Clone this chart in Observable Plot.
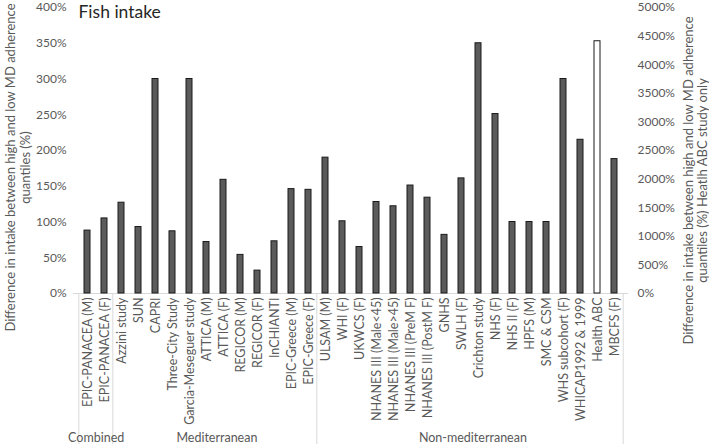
<!DOCTYPE html>
<html><head><meta charset="utf-8">
<script src="https://cdn.jsdelivr.net/npm/d3@7"></script>
<script src="https://cdn.jsdelivr.net/npm/@observablehq/plot@0.6"></script>
<style>
body{margin:0;background:#fff;}
#chart svg{display:block;}
</style></head><body><div id="chart"></div>
<script>
const studies = ["EPIC-PANACEA (M)","EPIC-PANACEA (F)","Azzini study","SUN","CAPRI","Three-City Study","Garcia-Meseguer study","ATTICA (M)","ATTICA (F)","REGICOR (M)","REGICOR (F)","InCHIANTI","EPIC-Greece (M)","EPIC-Greece (F)","ULSAM (M)","WHI (F)","UKWCS (F)","NHANES III (Male<45)","NHANES III (Male>45)","NHANES III (PreM F)","NHANES III (PostM F)","GNHS","SWLH (F)","Crichton study","NHS (F)","NHS II (F)","HPFS (M)","SMC & CSM","WHS subcohort (F)","WHICAP1992 & 1999","Health ABC","MBCFS (F)"];
const groupNames = ["Combined","Mediterranean","Non-mediterranean"];
const groupSizes = [2, 12, 18];
// left axis values (%); null where plotted on the right axis
const leftValues = [88,105,127,93,300,87,300,72,159,54,32,73,146,145,190,101,65,128,122,151,134,82,161,350,251,100,100,100,300,215,null,188];
// right axis values (%) — Health ABC study only
const rightValues = [null,null,null,null,null,null,null,null,null,null,null,null,null,null,null,null,null,null,null,null,null,null,null,null,null,null,null,null,null,null,4410,null];
const leftTicks = [0,50,100,150,200,250,300,350,400];
const rightTicks = [0,500,1000,1500,2000,2500,3000,3500,4000,4500,5000];
const title = "Fish intake";
const yLabelLeft = "Difference in intake between high and low MD adherence\nquantiles (%)";
const yLabelRight = "Difference in intake between high and low MD adherence\nquantiles (%) Heatlh ABC study only";

const leftMax = leftTicks[leftTicks.length-1], rightMax = rightTicks[rightTicks.length-1];
const ratio = rightMax / leftMax;
const data = studies.map((s, i) => ({
  study: s,
  right: rightValues[i] != null,
  y: rightValues[i] != null ? rightValues[i] / ratio : leftValues[i]
}));

const W = 709, H = 444, mL = 73, mR = 81, mT = 7, mB = 151;
const step = (W - mL - mR) / studies.length;
const plotH = H - mT - mB;

// group boundaries
const starts = [];
let acc = 0;
for (const n of groupSizes) { starts.push(acc); acc += n; }

const grey = "#d9d9d9";
const marks = [
  Plot.ruleY([0], {stroke: grey}),
  Plot.barY(data, {x: "study", y: "y", fill: d => d.right ? "#ffffff" : "#5b5b5b", stroke: "#1a1a1a", strokeWidth: 1}),
  Plot.axisY({anchor: "left", ticks: leftTicks, tickFormat: d => d + "%", tickSize: 0, tickPadding: 7, label: null, fontSize: 12}),
  Plot.axisY({anchor: "right", ticks: rightTicks.map(v => v / ratio), tickFormat: d => Math.round(d * ratio) + "%", tickSize: 0, tickPadding: 9, label: null, fontSize: 12}),
  Plot.axisX({tickRotate: -90, tickSize: 0, tickPadding: 4, label: null, fontSize: 12.5}),
  // separators at group boundaries (left edges) and right end
  Plot.ruleX(starts.map(i => studies[i]), {dx: -step/2, insetTop: plotH, insetBottom: -mB, stroke: grey}),
  Plot.ruleX([studies[studies.length-1]], {dx: step/2, insetTop: plotH, insetBottom: -mB, stroke: grey}),
  Plot.text([title], {frameAnchor: "top-left", dx: 5, dy: -2, lineAnchor: "top", textAnchor: "start", fontSize: 17.5, fill: "#262626"}),
  Plot.text([yLabelLeft], {frameAnchor: "left", dx: 17 - mL, dy: 17, rotate: -90, textAnchor: "middle", lineAnchor: "middle", lineHeight: 1.2, fontSize: 13}),
  Plot.text([yLabelRight], {frameAnchor: "right", dx: 695 - (W - mR), dy: 30, rotate: -90, textAnchor: "middle", lineAnchor: "middle", lineHeight: 1.1, fontSize: 13})
];
groupNames.forEach((g, k) => {
  marks.push(Plot.text([g], {x: () => studies[starts[k]], dx: (groupSizes[k]-1)*step/2, frameAnchor: "bottom", dy: 144, textAnchor: "middle", lineAnchor: "middle", fontSize: 12.5}));
});

const chart = Plot.plot({
  width: W, height: H,
  marginLeft: mL, marginRight: mR, marginTop: mT, marginBottom: mB,
  style: {fontFamily: "Lato, 'Open Sans', sans-serif", fontSize: "12px", color: "#595959", background: "#fff"},
  x: {domain: studies, paddingInner: 0.64, paddingOuter: 0.32},
  y: {domain: [0, leftMax]},
  color: {type: "identity"},
  marks
});
document.getElementById("chart").appendChild(chart);
</script></body></html>
